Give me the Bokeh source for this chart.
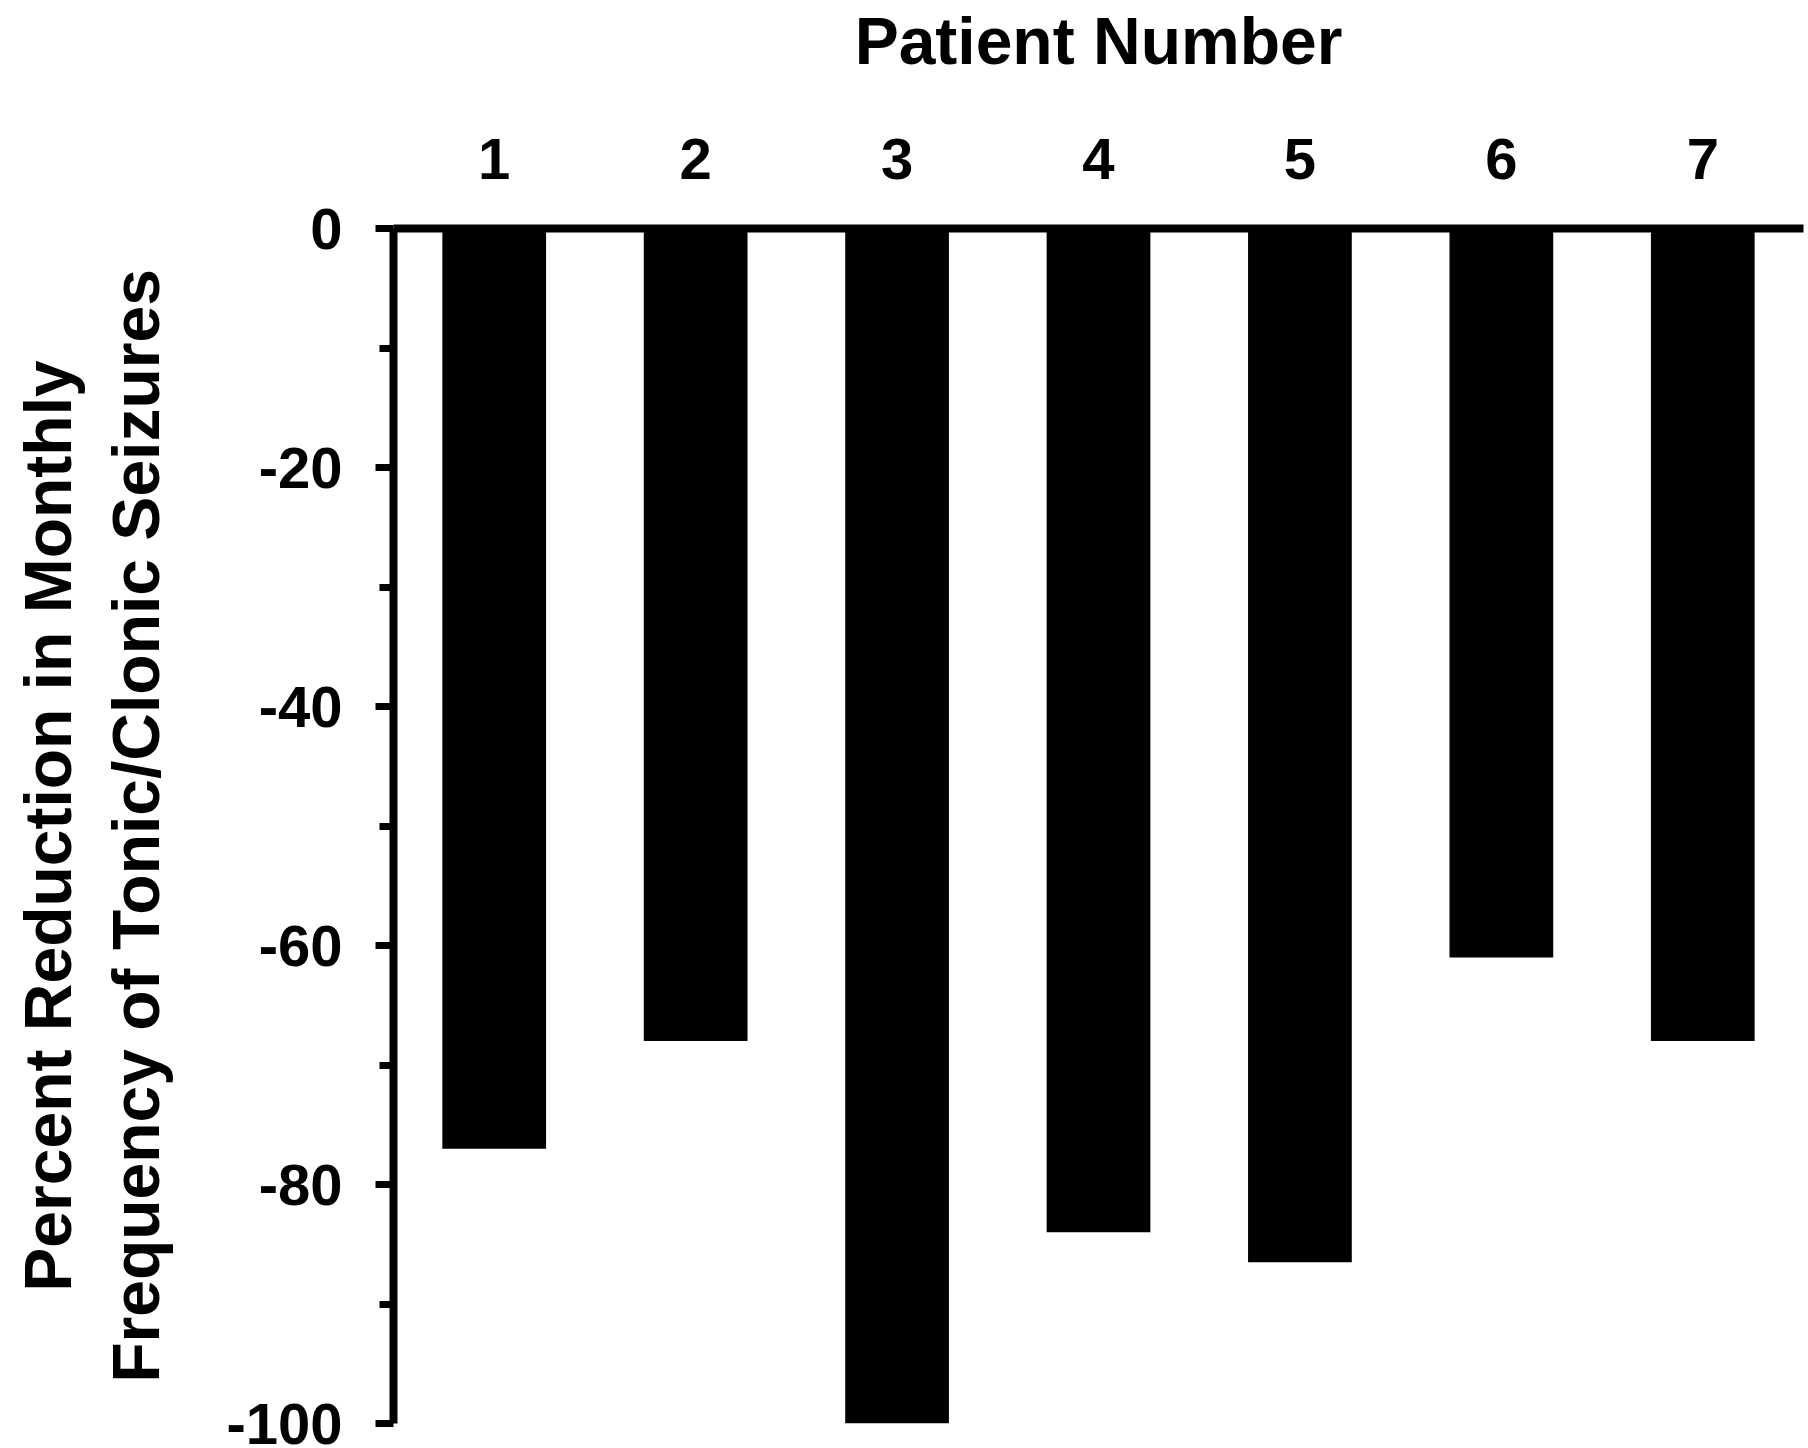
from bokeh.plotting import figure
from bokeh.models import LinearAxis, FixedTicker, Range1d
from bokeh.embed import file_html
from bokeh.resources import INLINE

patients = [1, 2, 3, 4, 5, 6, 7]
reduction = [-77, -68, -100, -84, -86.5, -61, -68]
y_ticks = [0, -20, -40, -60, -80, -100]
y_minor = [-10, -30, -50, -70, -90]
y_tick_labels = ["0", "-20", "-40", "-60", "-80", "-100"]
x_title = "Patient Number"
y_title = "Percent Reduction in Monthly\nFrequency of Tonic/Clonic Seizures"

FONT = "Liberation Sans"

p = figure(width=1808, height=1448, output_backend="svg", toolbar_location=None,
           x_range=Range1d(0.5, 7.5), y_range=Range1d(-100, 0),
           x_axis_location=None, y_axis_location=None,
           min_border_left=393, min_border_right=5, min_border_top=228, min_border_bottom=25)
p.outline_line_color = None
p.xgrid.visible = False
p.ygrid.visible = False
p.background_fill_color = "white"
p.border_fill_color = "white"

p.vbar(x=patients, top=reduction, bottom=0, width=0.515, fill_color="black", line_color=None)

# top axis
xa = LinearAxis(ticker=FixedTicker(ticks=patients, minor_ticks=[]))
xa.axis_line_width = 8
xa.axis_line_color = "black"
xa.major_tick_out = 0
xa.major_tick_in = 0
xa.minor_tick_out = 0
xa.minor_tick_in = 0
xa.major_label_text_font = FONT
xa.major_label_text_font_style = "bold"
xa.major_label_text_font_size = "58px"
xa.major_label_text_color = "black"
xa.major_label_standoff = 50
xa.axis_label = x_title
xa.axis_label_text_font = FONT
xa.axis_label_text_font_style = "bold"
xa.axis_label_text_font_size = "66px"
xa.axis_label_text_color = "black"
xa.axis_label_standoff = 58
p.add_layout(xa, "above")

# left axis
ya = LinearAxis(ticker=FixedTicker(ticks=y_ticks, minor_ticks=y_minor))
ya.major_label_overrides = {t: l for t, l in zip(y_ticks, y_tick_labels)}
ya.axis_line_width = 8
ya.axis_line_color = "black"
ya.major_tick_out = 18
ya.major_tick_in = 0
ya.major_tick_line_width = 7
ya.minor_tick_out = 14
ya.minor_tick_in = 0
ya.minor_tick_line_width = 7
ya.major_label_text_font = FONT
ya.major_label_text_font_style = "bold"
ya.major_label_text_font_size = "58px"
ya.major_label_text_color = "black"
ya.major_label_standoff = 33
ya.axis_label = y_title
ya.axis_label_text_font = FONT
ya.axis_label_text_font_style = "bold"
ya.axis_label_text_font_size = "66px"
ya.axis_label_text_color = "black"
ya.axis_label_text_line_height = 1.2
ya.axis_label_standoff = 50
p.add_layout(ya, "left")

open("out.html", "w").write(file_html(p, INLINE))
